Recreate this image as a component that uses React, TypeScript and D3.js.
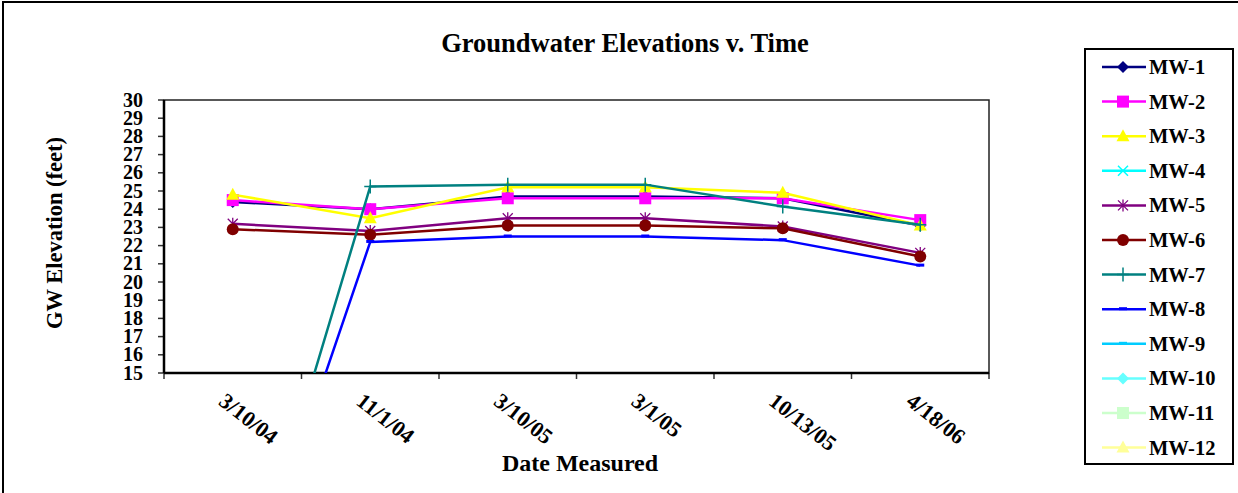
import { useEffect, useRef } from 'react';
import * as d3 from 'd3';

// Chart data
const DATES = ['3/10/04', '11/1/04', '3/10/05', '3/1/05', '10/13/05', '4/18/06'];
const Y_TICKS = [15, 16, 17, 18, 19, 20, 21, 22, 23, 24, 25, 26, 27, 28, 29, 30];

const MW1 = [24.4, 24.0, 24.7, 24.7, 24.6, 23.1];
const MW2 = [24.5, 24.0, 24.6, 24.6, 24.6, 23.4];
const MW3 = [24.8, 23.5, 25.2, 25.2, 24.9, 23.1];
const MW4: (number | null)[] = [null, null, null, null, null, null];
const MW5 = [23.2, 22.8, 23.5, 23.5, 23.05, 21.6];
const MW6 = [22.9, 22.6, 23.1, 23.1, 22.95, 21.4];
const MW7 = [0, 25.25, 25.35, 25.35, 24.15, 23.15];
const MW8 = [0, 22.2, 22.5, 22.5, 22.3, 20.9];
const MW9: (number | null)[] = [null, null, null, null, null, null];
const MW10: (number | null)[] = [null, null, null, null, null, null];
const MW11: (number | null)[] = [null, null, null, null, null, null];
const MW12: (number | null)[] = [null, null, null, null, null, null];

type Marker = 'diamond' | 'square' | 'triangle' | 'x' | 'star' | 'circle' | 'plus' | 'dash';

const SERIES: { name: string; color: string; marker: Marker; values: (number | null)[] }[] = [
  { name: 'MW-1', color: '#000080', marker: 'diamond', values: MW1 },
  { name: 'MW-2', color: '#ff00ff', marker: 'square', values: MW2 },
  { name: 'MW-3', color: '#ffff00', marker: 'triangle', values: MW3 },
  { name: 'MW-4', color: '#00ffff', marker: 'x', values: MW4 },
  { name: 'MW-5', color: '#800080', marker: 'star', values: MW5 },
  { name: 'MW-6', color: '#800000', marker: 'circle', values: MW6 },
  { name: 'MW-7', color: '#008080', marker: 'plus', values: MW7 },
  { name: 'MW-8', color: '#0000ff', marker: 'dash', values: MW8 },
  { name: 'MW-9', color: '#00ccff', marker: 'dash', values: MW9 },
  { name: 'MW-10', color: '#66ffff', marker: 'diamond', values: MW10 },
  { name: 'MW-11', color: '#ccffcc', marker: 'square', values: MW11 },
  { name: 'MW-12', color: '#ffff99', marker: 'triangle', values: MW12 },
];

const WIDTH = 1238;
const HEIGHT = 493;
const PLOT = { left: 164, top: 100, right: 989, bottom: 373 };
const FONT = 'Liberation Serif, Times New Roman, serif';

function drawMarker(g: d3.Selection<SVGGElement, unknown, null, undefined>, kind: Marker, x: number, y: number, color: string) {
  if (kind === 'diamond') {
    g.append('path').attr('d', `M${x},${y - 6}L${x + 6},${y}L${x},${y + 6}L${x - 6},${y}Z`).attr('fill', color);
  } else if (kind === 'square') {
    g.append('rect').attr('x', x - 6).attr('y', y - 6).attr('width', 12).attr('height', 12).attr('fill', color);
  } else if (kind === 'triangle') {
    g.append('path').attr('d', `M${x},${y - 7}L${x + 6.5},${y + 5}L${x - 6.5},${y + 5}Z`).attr('fill', color);
  } else if (kind === 'circle') {
    g.append('circle').attr('cx', x).attr('cy', y).attr('r', 6).attr('fill', color);
  } else if (kind === 'x') {
    g.append('path').attr('d', `M${x - 5},${y - 5}L${x + 5},${y + 5}M${x - 5},${y + 5}L${x + 5},${y - 5}`).attr('stroke', color).attr('stroke-width', 1.5);
  } else if (kind === 'star') {
    g.append('path')
      .attr('d', `M${x - 5},${y - 5}L${x + 5},${y + 5}M${x - 5},${y + 5}L${x + 5},${y - 5}M${x},${y - 6}L${x},${y + 6}`)
      .attr('stroke', color)
      .attr('stroke-width', 1.3);
  } else if (kind === 'plus') {
    g.append('path').attr('d', `M${x - 6},${y}L${x + 6},${y}M${x},${y - 7}L${x},${y + 7}`).attr('stroke', color).attr('stroke-width', 1.5);
  } else if (kind === 'dash') {
    g.append('rect').attr('x', x - 4).attr('y', y - 2).attr('width', 8).attr('height', 3).attr('fill', color);
  }
}

export default function App() {
  const svgRef = useRef<SVGSVGElement | null>(null);

  useEffect(() => {
    const svgEl = svgRef.current;
    if (!svgEl) return;
    const svg = d3.select(svgEl);
    svg.selectAll('*').remove();

    const x = d3.scaleBand<string>().domain(DATES).range([PLOT.left, PLOT.right]);
    const y = d3.scaleLinear().domain([15, 30]).range([PLOT.bottom, PLOT.top]);
    const cx = (d: string) => (x(d) ?? 0) + x.bandwidth() / 2;

    // outer chart frame
    svg.append('rect').attr('x', 3).attr('y', 2).attr('width', WIDTH + 10).attr('height', HEIGHT + 10)
      .attr('fill', '#fff').attr('stroke', '#000').attr('stroke-width', 2);

    // title
    svg.append('text').attr('x', 625).attr('y', 52).attr('text-anchor', 'middle')
      .attr('font-family', FONT).attr('font-weight', 'bold').attr('font-size', 26.5)
      .text('Groundwater Elevations v. Time');

    // plot area border
    svg.append('rect').attr('x', PLOT.left).attr('y', PLOT.top)
      .attr('width', PLOT.right - PLOT.left).attr('height', PLOT.bottom - PLOT.top)
      .attr('fill', '#fff').attr('stroke', '#222').attr('stroke-width', 1.5);

    // ---- Y axis ----
    const yAxis = svg.append('g');
    yAxis.selectAll('line.tick').data(Y_TICKS).join('line').attr('class', 'tick')
      .attr('x1', PLOT.left - 6).attr('x2', PLOT.left).attr('y1', (d) => y(d)).attr('y2', (d) => y(d))
      .attr('stroke', '#333').attr('stroke-width', 1.5);
    yAxis.selectAll('text').data(Y_TICKS).join('text')
      .attr('x', 143).attr('y', (d) => y(d) + 6.5).attr('text-anchor', 'end')
      .attr('font-family', FONT).attr('font-weight', 'bold').attr('font-size', 20)
      .text((d) => String(d));
    yAxis.append('line').attr('x1', PLOT.left).attr('x2', PLOT.left).attr('y1', PLOT.top).attr('y2', PLOT.bottom)
      .attr('stroke', '#000').attr('stroke-width', 2.5);
    svg.append('text').attr('transform', `translate(62, 233) rotate(-90)`).attr('text-anchor', 'middle')
      .attr('font-family', FONT).attr('font-weight', 'bold').attr('font-size', 22.5)
      .text('GW Elevation (feet)');

    // ---- X axis ----
    const xAxis = svg.append('g');
    const boundaries = [...DATES.map((d) => x(d) ?? 0), PLOT.right];
    xAxis.selectAll('line').data(boundaries).join('line')
      .attr('x1', (d) => d).attr('x2', (d) => d).attr('y1', PLOT.bottom).attr('y2', PLOT.bottom + 6)
      .attr('stroke', '#333').attr('stroke-width', 1.5);
    xAxis.append('line').attr('x1', PLOT.left).attr('x2', PLOT.right).attr('y1', PLOT.bottom).attr('y2', PLOT.bottom)
      .attr('stroke', '#000').attr('stroke-width', 2.5);
    xAxis.selectAll('text').data(DATES).join('text')
      .attr('transform', (d) => `translate(${cx(d) - 6}, 392) rotate(38)`)
      .attr('y', 15)
      .attr('font-family', FONT).attr('font-weight', 'bold').attr('font-size', 22)
      .text((d) => d);
    svg.append('text').attr('x', 580).attr('y', 471).attr('text-anchor', 'middle')
      .attr('font-family', FONT).attr('font-weight', 'bold').attr('font-size', 24)
      .text('Date Measured');

    // ---- Series ----
    svg.append('clipPath').attr('id', 'plot-clip').append('rect')
      .attr('x', PLOT.left).attr('y', PLOT.top)
      .attr('width', PLOT.right - PLOT.left).attr('height', PLOT.bottom - PLOT.top);

    const plot = svg.append('g').attr('clip-path', 'url(#plot-clip)');
    const line = d3.line<{ d: string; v: number | null }>()
      .defined((p) => p.v !== null)
      .x((p) => cx(p.d))
      .y((p) => y(p.v as number));

    for (const s of SERIES) {
      const pts = DATES.map((d, i) => ({ d, v: s.values[i] }));
      plot.append('path').datum(pts).attr('fill', 'none').attr('stroke', s.color)
        .attr('stroke-width', 2.5).attr('d', line);
      const mg = plot.append('g');
      pts.forEach((p) => {
        if (p.v === null || p.v < 15 || p.v > 30) return;
        drawMarker(mg, s.marker, cx(p.d), y(p.v), s.color);
      });
    }

    // ---- Legend ----
    svg.append('rect').attr('x', 1085).attr('y', 49).attr('width', 148).attr('height', 415)
      .attr('fill', '#fff').attr('stroke', '#000').attr('stroke-width', 2);
    SERIES.forEach((s, i) => {
      const ly = 67 + i * 34.6;
      const lg = svg.append('g');
      lg.append('line').attr('x1', 1102).attr('x2', 1146).attr('y1', ly).attr('y2', ly)
        .attr('stroke', s.color).attr('stroke-width', 2.5);
      drawMarker(lg, s.marker, 1123, ly, s.color);
      lg.append('text').attr('x', 1149).attr('y', ly + 7)
        .attr('font-family', FONT).attr('font-weight', 'bold').attr('font-size', 20.5)
        .text(s.name);
    });
  }, []);

  return (
    <svg
      ref={svgRef}
      width={WIDTH}
      height={HEIGHT}
      viewBox={`0 0 ${WIDTH} ${HEIGHT}`}
      style={{ position: 'absolute', left: 0, top: 0, display: 'block' }}
    />
  );
}
